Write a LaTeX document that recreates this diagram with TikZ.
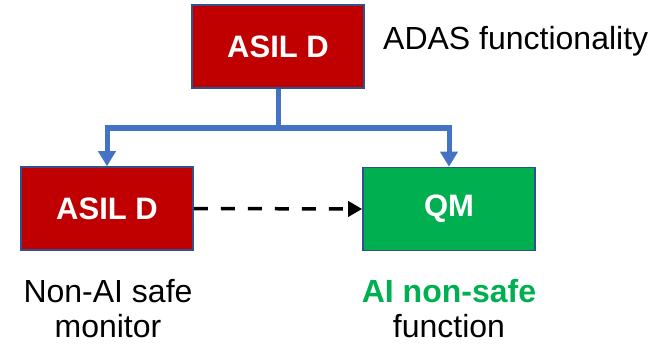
\documentclass[tikz,border=0pt]{standalone}
\usepackage{fontspec}
\setmainfont{Liberation Sans}
\usetikzlibrary{arrows.meta}
\definecolor{boxred}{HTML}{C00000}
\definecolor{boxgreen}{HTML}{00B050}
\definecolor{boxedge}{HTML}{2F528F}
\definecolor{busblue}{HTML}{4472C4}
\definecolor{labelgreen}{HTML}{00B050}
\tikzset{
  blockbox/.style={draw=boxedge, line width=1.6pt, minimum width=172pt, minimum height=83pt,
    inner sep=0pt, text=white, font=\fontsize{31}{37}\selectfont\bfseries},
  redbox/.style={blockbox, fill=boxred},
  greenbox/.style={blockbox, fill=boxgreen},
  bus/.style={draw=busblue, line width=5pt, -{Triangle[width=17pt,length=15pt]}},
  dasharrow/.style={draw=black, line width=3.5pt, dash pattern=on 14pt off 13pt,
    -{Triangle[width=15pt,length=14pt]}},
  caption/.style={inner sep=0pt, align=center, font=\fontsize{32}{35}\selectfont}
}
\begin{document}
\begin{tikzpicture}[x=1pt,y=-1pt]
\useasboundingbox (0,0) rectangle (654,345);
\node[redbox] (top) at (278,46.5) {ASIL D};
\node[redbox] (left) at (107,208.5) {ASIL D};
\node[greenbox] (right) at (449,209) {QM};
\coordinate (split) at (278,128);
\draw[bus] (top.south) -- (split) -| (left.north);
\draw[bus] (split) -| (right.north);
\draw[dasharrow] (left.east) -- (right.west);
\node[inner sep=0pt, anchor=base west, font=\fontsize{32}{35}\selectfont] (adas) at (383,50) {ADAS functionality};
\node[caption, anchor=base] (mon) at (108,337) {Non-AI safe\\monitor};
\node[caption, anchor=base] (fun) at (449,337) {\textcolor{labelgreen}{\bfseries AI non-safe}\\function};
\end{tikzpicture}
\end{document}
